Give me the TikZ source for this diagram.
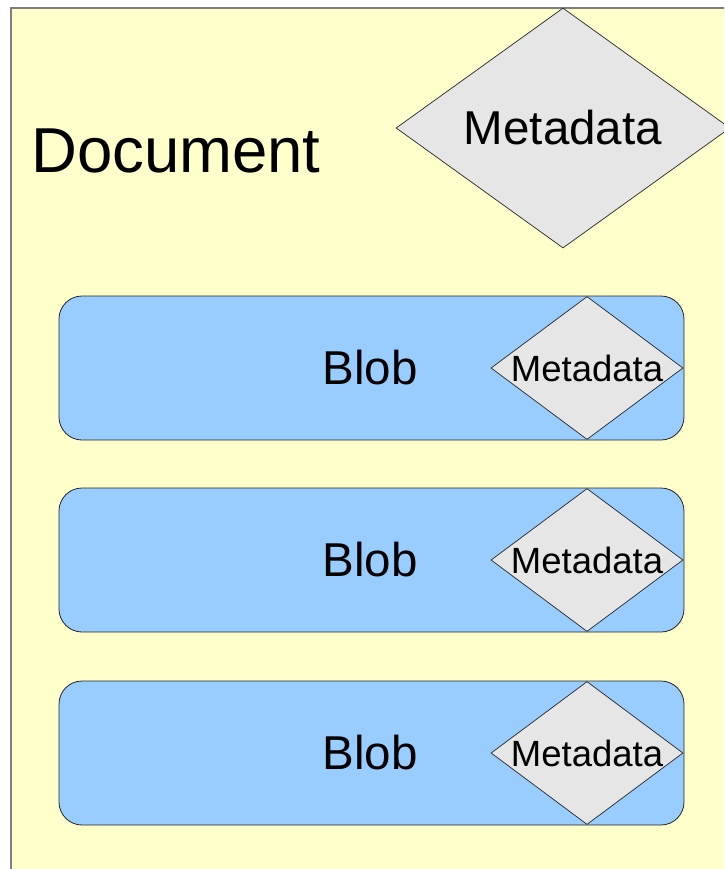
\documentclass[tikz,border=0pt]{standalone}
\usepackage{fontspec}
\setmainfont{Liberation Sans}
\usetikzlibrary{shapes.geometric}
\definecolor{docyellow}{HTML}{FFFFCC}
\definecolor{blobblue}{HTML}{99CCFF}
\definecolor{metagray}{HTML}{E6E6E6}
\definecolor{docborder}{HTML}{7F7F7F}
\tikzset{
  doc/.style={draw=docborder, fill=docyellow, line width=1.2pt},
  blobbox/.style={draw=black!85, fill=blobblue, line width=0.8pt, rounded corners=23pt,
    minimum width=625pt, minimum height=144pt, inner sep=0pt, anchor=center},
  metabig/.style={draw=black!85, fill=metagray, line width=0.7pt, diamond, inner sep=0pt,
    minimum width=334pt, minimum height=240pt},
  metasmall/.style={draw=black!85, fill=metagray, line width=0.7pt, diamond, inner sep=0pt,
    minimum width=192pt, minimum height=143pt},
  bigtext/.style={font=\fontsize{47.5}{50}\selectfont, inner sep=0pt},
  smalltext/.style={font=\fontsize{36.5}{40}\selectfont, inner sep=0pt},
  doctext/.style={font=\fontsize{63.5}{66}\selectfont, inner sep=0pt, anchor=base west},
}
\begin{document}
\begin{tikzpicture}[x=1pt, y=-1pt]
\useasboundingbox (0,0) rectangle (724,869);
\clip (0,0) rectangle (724,869);
\fill[white] (0,0) rectangle (724,869);
\draw[doc] (11,8) rectangle (760,900);
\node[doctext] (doctitle) at (31,172) {Document};
\node[metabig] (mbig) at (563,128) {};
\node[bigtext] (mbigtext) at (mbig.center) {Metadata};
\foreach \i/\y in {1/368, 2/560, 3/753} {
  \node[blobbox] (blob\i) at (371.5,\y) {};
  \node[bigtext] (blobtext\i) at (370,\y) {Blob};
  \node[metasmall] (meta\i) at (587,\y) {};
  \node[smalltext] (metatext\i) at (meta\i.center) {Metadata};
}
\end{tikzpicture}
\end{document}
